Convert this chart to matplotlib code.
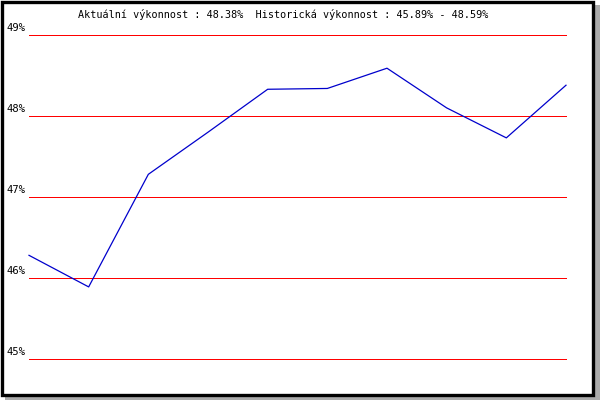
import matplotlib
matplotlib.use("Agg")
import matplotlib.pyplot as plt
from matplotlib.patches import Rectangle

# performance series (percent)
values = [46.28, 45.89, 47.28, 47.80, 48.33, 48.34, 48.59, 48.10, 47.73, 48.38]
grid_levels = [45, 46, 47, 48, 49]
grid_labels = ["45%", "46%", "47%", "48%", "49%"]
title = "Aktuální výkonnost : 48.38%  Historická výkonnost : 45.89% - 48.59%"

W, H = 600, 400
fig = plt.figure(figsize=(W / 100, H / 100), dpi=100)

# drop shadow + framed white panel
fig.patches.append(Rectangle((5 / W, 0), (W - 5) / W, (H - 5) / H,
                             transform=fig.transFigure, facecolor="#aaaaaa",
                             edgecolor="none", zorder=0))
fig.patches.append(Rectangle((1.5 / W, 5.5 / H), 591 / W, 393 / H,
                             transform=fig.transFigure, facecolor="white",
                             edgecolor="black", linewidth=2.4, zorder=1))

ax = fig.add_axes([29 / W, (H - 359) / H, 537 / W, 324 / H])
ax.set_zorder(2)
ax.patch.set_alpha(0)
ax.set_xlim(0, len(values) - 1)
ax.set_ylim(45, 49)
ax.axis("off")

for lvl, lab in zip(grid_levels, grid_labels):
    ax.axhline(lvl, color="#ff0000", lw=0.72, zorder=1, clip_on=False,
               antialiased=False)
    ax.annotate(lab, xy=(0, lvl), xycoords="data", xytext=(-3, 2),
                textcoords="offset pixels", ha="right", va="bottom",
                fontsize=7.6, family="DejaVu Sans Mono")

ax.plot(range(len(values)), values, color="#0000cc", lw=0.9, zorder=2,
        clip_on=False)

fig.text(283 / W, 1 - 14 / H, title, ha="center", va="center",
         fontsize=7.3, family="DejaVu Sans Mono")

fig.savefig("out.png", dpi=100)
